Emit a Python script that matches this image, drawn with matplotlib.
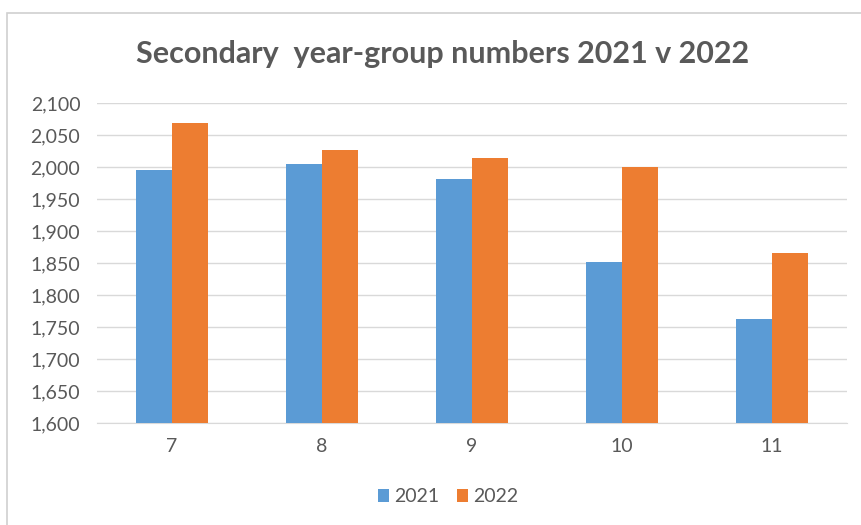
import matplotlib
matplotlib.use("Agg")
import matplotlib.pyplot as plt
import numpy as np
from matplotlib.patches import Rectangle

categories = ["7", "8", "9", "10", "11"]
series_2021 = [1996, 2004, 1981, 1851, 1762]
series_2022 = [2068, 2027, 2014, 2000, 1865]
yticks = [1600, 1650, 1700, 1750, 1800, 1850, 1900, 1950, 2000, 2050, 2100]

plt.rcParams['font.family'] = ['Lato', 'DejaVu Sans']

fig = plt.figure(figsize=(8.62, 5.25), dpi=100)
fig.patches.append(Rectangle((7/862, -0.01), 1.0, 1 - 13/525 + 0.01, transform=fig.transFigure,
                             fill=False, edgecolor="#D0D0D0", linewidth=1.2))
ax = fig.add_axes([97/862, 1 - 423/525, 750/862, 320/525])

x = np.arange(len(categories))
w = 0.24
ax.bar(x - w/2, series_2021, width=w, color="#5B9BD5", label="2021", zorder=3)
ax.bar(x + w/2, series_2022, width=w, color="#ED7D31", label="2022", zorder=3)

ax.set_xlim(-0.5, len(categories) - 0.5)
ax.set_ylim(1600, 2100)
ax.set_yticks(yticks)
ax.set_yticklabels([f"{v:,}" for v in yticks])
ax.set_xticks(x)
ax.set_xticklabels(categories)
ax.yaxis.grid(True, color="#D9D9D9", linewidth=1, zorder=0)
for s in ["top", "right", "left"]:
    ax.spines[s].set_visible(False)
ax.spines["bottom"].set_color("#D9D9D9")
ax.tick_params(axis="both", length=0, labelsize=14, labelcolor="#595959")
ax.tick_params(axis="y", pad=12)
ax.tick_params(axis="x", pad=11)

fig.text(443/862, 1 - 54/525, "Secondary  year-group numbers 2021 v 2022", ha="center", va="center",
         fontsize=22, fontweight="bold", color="#595959")

leg = fig.legend(loc="center", bbox_to_anchor=(448/862, 1 - 497/525), ncol=2, frameon=False,
                 fontsize=14, handlelength=0.6, handleheight=0.6, columnspacing=0.9, handletextpad=0.25)
for t in leg.get_texts():
    t.set_color("#595959")

fig.savefig("out.png", dpi=100)
